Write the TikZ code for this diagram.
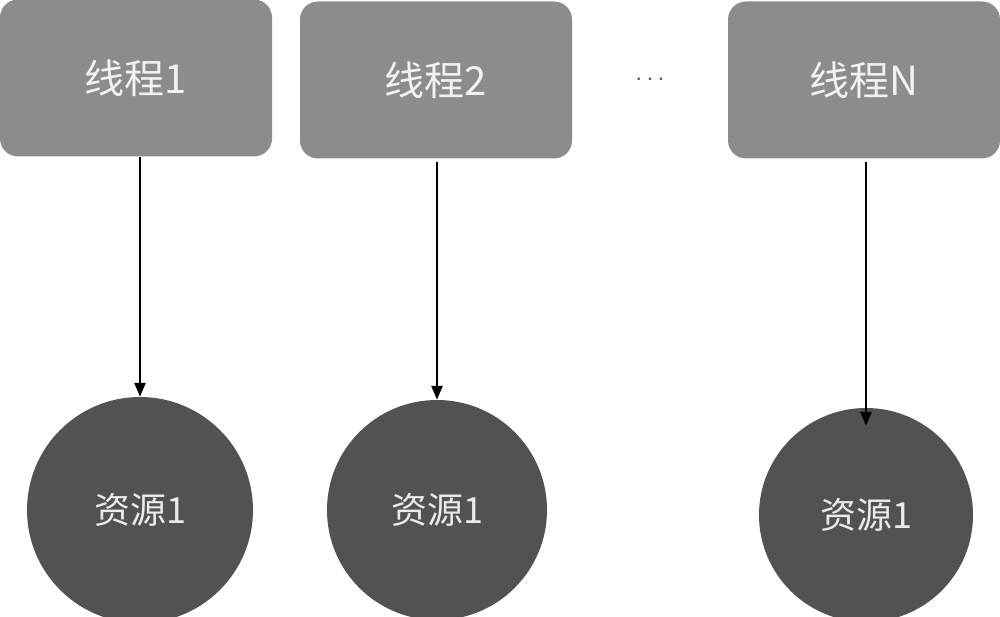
\documentclass[tikz,border=0pt]{standalone}
\usepackage{fontspec}
\setmainfont{Noto Sans CJK SC}
\usetikzlibrary{arrows.meta}
\begin{document}
\begin{tikzpicture}[x=1pt,y=-1pt,
  thr/.style={draw=none,fill=black!45,rounded corners=18pt,text=black!5,font=\fontsize{40}{44}\selectfont},
  res/.style={circle,draw=none,fill=black!68,text=black!8,font=\fontsize{36}{40}\selectfont,inner sep=0pt},
  arr/.style={-{Triangle[length=14pt,width=11pt]},line width=2.5pt}]
\useasboundingbox (0,0) rectangle (1000,617);
\fill[white] (0,0) rectangle (1000,617);
\node[thr,minimum width=272pt,minimum height=157pt] (t1) at (136,78) {线程1};
\node[thr,minimum width=272pt,minimum height=157pt] (t2) at (436,80) {线程2};
\node[thr,minimum width=272pt,minimum height=157pt] (t3) at (864,80) {线程\textit{N}};
\node[font=\fontsize{40}{44}\selectfont,text=black!70] (dots) at (650,80) {$\cdots$};
\node[res,minimum size=226pt] (r1) at (140,510) {资源1};
\node[res,minimum size=220pt] (r2) at (437,510) {资源1};
\node[res,minimum size=214pt] (r3) at (866,515) {资源1};
\draw[arr] (t1.south -| r1) -- (r1.north);
\draw[arr] ([yshift=-3pt]t2.south -| r2) -- (r2.north);
\draw[arr] ([yshift=-3pt]t3.south -| r3) -- ([yshift=-18pt]r3.north);
\end{tikzpicture}
\end{document}
